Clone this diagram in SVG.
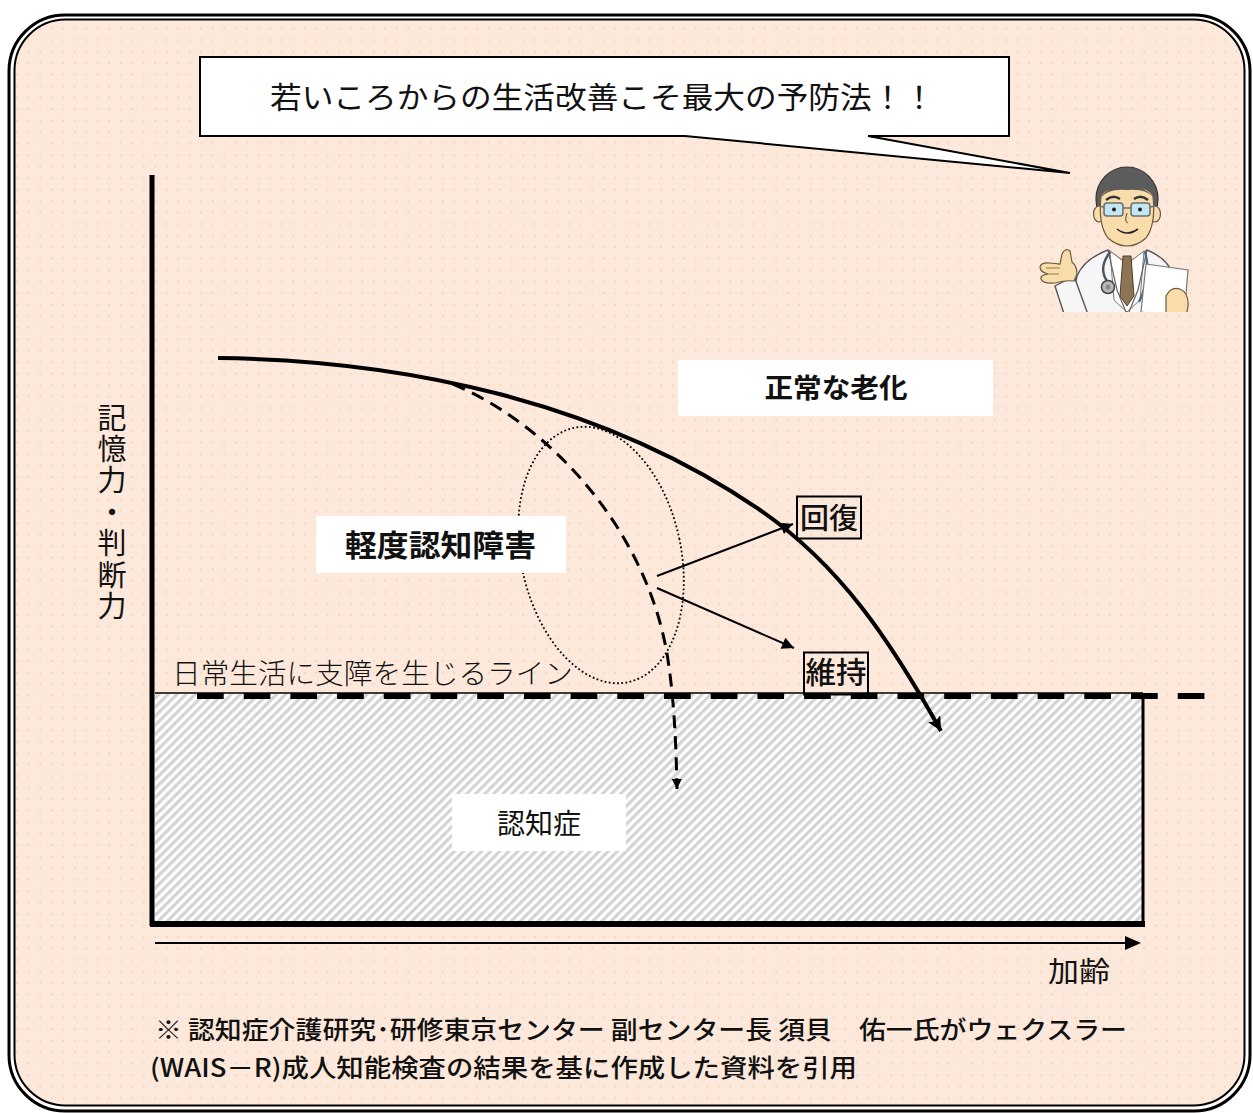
<svg xmlns="http://www.w3.org/2000/svg" width="1253" height="1113" viewBox="0 0 1253 1113">
  <style>
    .jp { font-family: "Noto Sans CJK JP", sans-serif; fill: #111; }
    .bold { font-weight: bold; }
    .arrowline { fill: none; stroke: #000; stroke-width: 2; }
    .skin { fill: #F8DDAB; stroke: #6b5a40; stroke-width: 1.2; }
    .coat { fill: #F6F6F6; stroke: #555; stroke-width: 1.4; }
  </style>
  <defs>
    <pattern id="dots" width="11.5" height="11.5" patternUnits="userSpaceOnUse">
      <rect width="11.5" height="11.5" fill="#FDE9DB"/>
      <circle cx="5.7" cy="5.7" r="1.1" fill="#F8D3B6"/>
    </pattern>
    <pattern id="hatch" width="6.4" height="6.4" patternUnits="userSpaceOnUse" patternTransform="rotate(45)">
      <rect width="6.4" height="6.4" fill="#FFFFFF"/>
      <line x1="1.7" y1="0" x2="1.7" y2="6.4" stroke="#D2D2D2" stroke-width="3.1"/>
    </pattern>
    <marker id="ah" viewBox="0 0 10 10" refX="10" refY="5" markerUnits="userSpaceOnUse" markerWidth="16" markerHeight="12" orient="auto">
      <path d="M0,0 L10,5 L0,10 Z" fill="#000"/>
    </marker>
    <marker id="ahBig" viewBox="0 0 10 10" refX="10" refY="5" markerUnits="userSpaceOnUse" markerWidth="20" markerHeight="14" orient="auto">
      <path d="M0,0 L10,5 L0,10 L2,5 Z" fill="#000"/>
    </marker>
    <marker id="ahSmall" viewBox="0 0 10 10" refX="10" refY="5" markerUnits="userSpaceOnUse" markerWidth="13" markerHeight="10" orient="auto">
      <path d="M0,0 L10,5 L0,10 Z" fill="#000"/>
    </marker>
    <clipPath id="docClip">
      <rect x="1028" y="160" width="170" height="152"/>
    </clipPath>
  </defs>

  <!-- double-lined rounded frame -->
  <g id="frame">
    <rect x="9" y="15" width="1241" height="1096" rx="56" fill="#FFFFFF" stroke="#000" stroke-width="3"/>
    <rect x="14.5" y="19.5" width="1230" height="1086" rx="51" fill="url(#dots)" stroke="#000" stroke-width="2"/>
  </g>

  <!-- speech bubble -->
  <g id="bubble">
    <path d="M200,57 H1009 V136 H868 L1070,173 L685,136 H200 Z" fill="#FFFFFF" stroke="#000" stroke-width="2" stroke-linejoin="miter"/>
    <text class="jp" x="270" y="108" font-size="30" textLength="665" lengthAdjust="spacingAndGlyphs">若いころからの生活改善こそ最大の予防法！！</text>
  </g>

  <!-- doctor illustration -->
  <g id="doctor" clip-path="url(#docClip)">
    <!-- coat -->
    <path class="coat" d="M1068,320 L1077,276 Q1084,259 1108,250 L1127,264 L1147,250 Q1169,259 1173,276 L1178,320 Z"/>
    <!-- shirt and tie -->
    <path d="M1110,251 L1127,264 L1144,251 L1140,300 L1127,312 L1114,300 Z" fill="#FFFFFF" stroke="#777" stroke-width="1"/>
    <path d="M1123,256 L1131,256 L1134,296 L1127,306 L1120,296 Z" fill="#8C7454" stroke="#4d3f2c" stroke-width="1"/>
    <!-- lapels -->
    <path d="M1108,250 L1117,290 L1126,312" fill="none" stroke="#666" stroke-width="1.2"/>
    <path d="M1147,250 L1138,290 L1129,312" fill="none" stroke="#666" stroke-width="1.2"/>
    <!-- stethoscope -->
    <path d="M1110,252 Q1098,268 1107,281" fill="none" stroke="#4a5560" stroke-width="2.4"/>
    <path d="M1145,252 Q1152,276 1139,302" fill="none" stroke="#4a6a8a" stroke-width="2.4"/>
    <circle cx="1108" cy="287" r="6.5" fill="#B9B9B9" stroke="#444" stroke-width="1.5"/>
    <circle cx="1108" cy="287" r="2.5" fill="#888"/>
    <!-- raised arm and hand -->
    <path class="coat" d="M1055,286 L1074,276 L1090,320 L1066,320 Z"/>
    <path class="skin" d="M1074,281 Q1066,280 1055,283 Q1043,284 1041,279 Q1040,275 1048,274 Q1040,272 1040,267 Q1041,262 1050,263 L1060,264 L1062,254 Q1066,247 1070,251 L1072,262 Q1077,266 1077,274 Z"/>
    <path d="M1046,268 L1060,268 M1046,274 L1059,274" stroke="#8a7150" stroke-width="0.9" fill="none"/>
    <!-- paper sheet -->
    <path d="M1146,264 L1188,270 L1184,318 L1141,312 Z" fill="#FFFFFF" stroke="#777" stroke-width="1.2"/>
    <!-- hand holding paper -->
    <path class="skin" d="M1166,296 Q1171,286 1180,289 Q1189,293 1188,306 L1186,318 L1166,318 Z"/>
    <!-- head: hair, ears, face -->
    <ellipse cx="1127" cy="199" rx="31" ry="32" fill="#5C5C5C" stroke="#333" stroke-width="1.2"/>
    <ellipse class="skin" cx="1099" cy="214" rx="5.5" ry="8"/>
    <ellipse class="skin" cx="1155" cy="214" rx="5.5" ry="8"/>
    <path class="skin" d="M1101,196 Q1106,186 1127,186 Q1148,186 1153,196 Q1156,225 1146,238 Q1137,246 1127,246 Q1117,246 1108,238 Q1098,225 1101,196 Z"/>
    <path d="M1100,198 Q1110,184 1127,185 Q1143,184 1154,198 Q1146,188 1127,190 Q1109,188 1100,198 Z" fill="#5C5C5C"/>
    <!-- eyebrows -->
    <path d="M1106,200 Q1113,194 1120,199" fill="none" stroke="#333" stroke-width="2.4"/>
    <path d="M1134,199 Q1141,194 1148,200" fill="none" stroke="#333" stroke-width="2.4"/>
    <!-- glasses -->
    <rect x="1104" y="203" width="19" height="13" rx="3" fill="#C3E6F3" stroke="#6f6f6f" stroke-width="1.6"/>
    <rect x="1131" y="203" width="19" height="13" rx="3" fill="#C3E6F3" stroke="#6f6f6f" stroke-width="1.6"/>
    <path d="M1123,208 L1131,208 M1104,207 L1098,206 M1150,207 L1156,206" stroke="#6f6f6f" stroke-width="1.4"/>
    <circle cx="1114" cy="209.5" r="2" fill="#222"/>
    <circle cx="1140" cy="209.5" r="2" fill="#222"/>
    <!-- nose and smile -->
    <path d="M1127,213 Q1124,222 1128,223" fill="none" stroke="#7a6040" stroke-width="1.2"/>
    <path d="M1117,229 Q1127,237 1138,229" fill="none" stroke="#222" stroke-width="1.6"/>
  </g>

  <!-- dementia zone below the daily-life line -->
  <g id="dementia-zone">
    <rect x="155" y="694" width="988" height="229" fill="url(#hatch)"/>
    <line x1="155" y1="693" x2="1143" y2="693" stroke="#000" stroke-width="1.5"/>
    <line x1="1143" y1="693" x2="1143" y2="926" stroke="#000" stroke-width="3"/>
    <line x1="150" y1="924" x2="1145" y2="924" stroke="#000" stroke-width="6"/>
  </g>

  <!-- axes -->
  <g id="axes">
    <line x1="152" y1="175" x2="152" y2="926" stroke="#000" stroke-width="5"/>
    <line x1="155" y1="943" x2="1126" y2="943" stroke="#000" stroke-width="2"/>
    <path d="M1125,936 L1141,943 L1125,950 Z" fill="#000"/>
  </g>

  <!-- daily-life threshold line -->
  <g id="threshold">
    <line x1="197" y1="696" x2="1205" y2="696" stroke="#000" stroke-width="6" stroke-dasharray="26.7 20"/>
    <text class="jp" x="172" y="684" font-size="28" textLength="401" lengthAdjust="spacingAndGlyphs" style="font-weight:300">日常生活に支障を生じるライン</text>
  </g>

  <!-- connectors -->
  <g id="connectors">
    <!-- normal ageing curve -->
    <path d="M218,358 C400,360 600,400 760,510 C840,565 890,640 941,731" fill="none" stroke="#000" stroke-width="4" marker-end="url(#ahBig)"/>
    <!-- MCI decline (dashed) -->
    <path d="M453,384 C560,430 650,540 668,660 C674,700 676,740 677,789" fill="none" stroke="#000" stroke-width="3" stroke-dasharray="13 8" marker-end="url(#ahSmall)"/>
    <!-- MCI region -->
    <ellipse cx="601" cy="555" rx="80" ry="130" transform="rotate(-12 601 555)" fill="none" stroke="#000" stroke-width="1.8" stroke-dasharray="1.8 2.4"/>
    <!-- recovery / maintenance branches -->
    <line class="arrowline" x1="657" y1="576" x2="793" y2="524" marker-end="url(#ah)"/>
    <line class="arrowline" x1="657" y1="588" x2="794" y2="648" marker-end="url(#ah)"/>
  </g>

  <!-- labels -->
  <g id="normal-ageing">
    <rect x="678" y="360" width="315" height="56" fill="#FFFFFF"/>
    <text class="jp bold" x="836" y="398" font-size="27" text-anchor="middle" textLength="143" lengthAdjust="spacingAndGlyphs">正常な老化</text>
  </g>
  <g id="mci">
    <rect x="316" y="516" width="250" height="57" fill="#FFFFFF"/>
    <text class="jp bold" x="440.5" y="556" font-size="30" text-anchor="middle" textLength="191" lengthAdjust="spacingAndGlyphs">軽度認知障害</text>
  </g>
  <g id="recovery">
    <rect x="797" y="496.5" width="64" height="42" fill="none" stroke="#000" stroke-width="2"/>
    <text class="jp" x="829" y="529" font-size="29" text-anchor="middle" textLength="58" lengthAdjust="spacingAndGlyphs" style="font-weight:500">回復</text>
  </g>
  <g id="maintain">
    <rect x="804" y="652.5" width="64" height="42" fill="none" stroke="#000" stroke-width="2"/>
    <text class="jp" x="836" y="683" font-size="30" text-anchor="middle" textLength="61" lengthAdjust="spacingAndGlyphs" style="font-weight:500">維持</text>
  </g>
  <g id="dementia">
    <rect x="452" y="794" width="174" height="57" fill="#FFFFFF"/>
    <text class="jp" x="539" y="834" font-size="28" text-anchor="middle" textLength="84" lengthAdjust="spacingAndGlyphs">認知症</text>
  </g>

  <!-- axis labels -->
  <g id="y-label">
    <text class="jp" x="112" y="403" font-size="29" letter-spacing="2.4" style="writing-mode: vertical-rl">記憶力・判断力</text>
  </g>
  <g id="x-label">
    <text class="jp" x="1048" y="982" font-size="28" textLength="62" lengthAdjust="spacingAndGlyphs">加齢</text>
  </g>

  <!-- source note -->
  <g id="note">
    <text class="jp" x="155" y="1039" font-size="25" textLength="972" lengthAdjust="spacingAndGlyphs" style="font-weight:500">※ 認知症介護研究･研修東京センター 副センター長 須貝　佑一氏がウェクスラー</text>
    <text class="jp" x="150" y="1077" font-size="25" textLength="707" lengthAdjust="spacingAndGlyphs" style="font-weight:500">(WAIS－R)成人知能検査の結果を基に作成した資料を引用</text>
  </g>
</svg>
